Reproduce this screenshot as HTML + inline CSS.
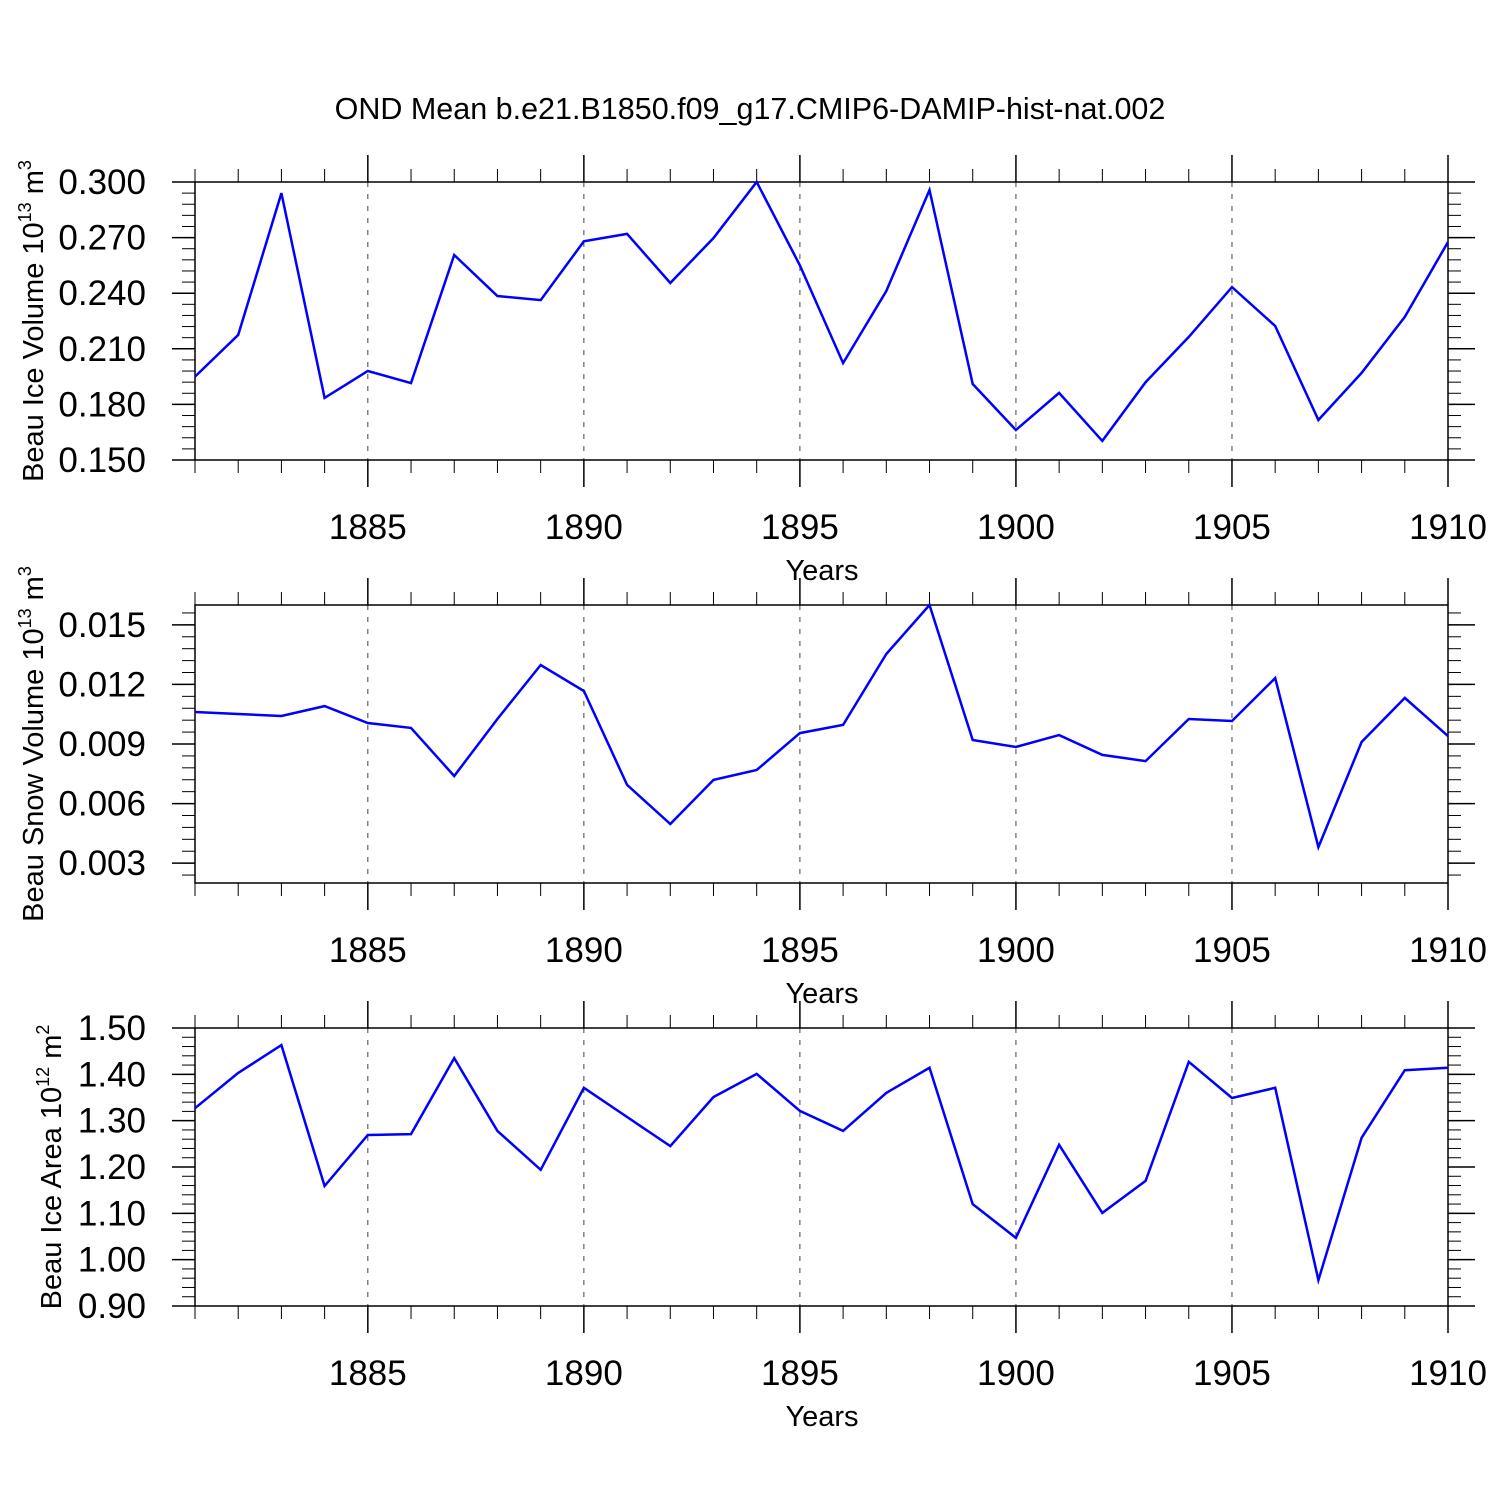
<!DOCTYPE html>
<html><head><meta charset="utf-8"><style>
html,body{margin:0;padding:0;background:#fff;}
svg{display:block;font-family:"Liberation Sans",sans-serif;}
</style></head><body>
<svg id="chart" width="1500" height="1500" viewBox="0 0 1500 1500" xmlns="http://www.w3.org/2000/svg">
<text x="750" y="119" text-anchor="middle" font-size="30.5">OND Mean b.e21.B1850.f09_g17.CMIP6-DAMIP-hist-nat.002</text>
</svg>
<script>
const years = [1881,1882,1883,1884,1885,1886,1887,1888,1889,1890,1891,1892,1893,1894,1895,1896,1897,1898,1899,1900,1901,1902,1903,1904,1905,1906,1907,1908,1909,1910];
const iceVolume = [0.195,0.2175,0.294,0.1835,0.198,0.1915,0.2606,0.2385,0.2363,0.268,0.272,0.2455,0.2698,0.300,0.255,0.2023,0.2412,0.2957,0.191,0.1662,0.1862,0.1603,0.192,0.2164,0.2433,0.2223,0.1716,0.197,0.2272,0.2676];
const snowVolume = [0.01061,0.01051,0.01041,0.01091,0.01006,0.00981,0.00739,0.01026,0.01298,0.01167,0.00694,0.00497,0.00719,0.00769,0.00955,0.00996,0.01353,0.016,0.0092,0.00885,0.00945,0.00845,0.00814,0.01026,0.01016,0.01232,0.00381,0.0091,0.01132,0.0094];
const iceArea = [1.327,1.403,1.463,1.159,1.269,1.271,1.435,1.278,1.194,1.371,1.308,1.245,1.351,1.401,1.321,1.278,1.360,1.414,1.120,1.047,1.248,1.101,1.170,1.427,1.349,1.371,0.956,1.263,1.409,1.414];
const xTicks = [1885,1890,1895,1900,1905,1910];
const iceVolTicks = ["0.150","0.180","0.210","0.240","0.270","0.300"];
const snowTicks = ["0.003","0.006","0.009","0.012","0.015"];
const areaTicks = ["0.90","1.00","1.10","1.20","1.30","1.40","1.50"];

const svg = document.getElementById('chart');
const NS = 'http://www.w3.org/2000/svg';
function mk(tag, attrs, parent){const e=document.createElementNS(NS,tag);for(const k in attrs)e.setAttribute(k,attrs[k]);(parent||svg).appendChild(e);return e;}
const X0=195, X1=1448, xmin=1881, xmax=1910;
const xs = v => X0 + (v-xmin)/(xmax-xmin)*(X1-X0);

function panel(key, top, ymin, ymax, ticks, minorStep, values, titleParts){
  const bot = top+278;
  const ys = v => bot - (v-ymin)/(ymax-ymin)*278;
  const g = mk('g',{});
  
  
  xTicks.forEach(t=>{ if(t<xmax){ const l=mk('line',{x1:xs(t),x2:xs(t),y1:top,y2:bot,stroke:'#444','stroke-width':1,'stroke-dasharray':'5,7'},g);
    
     }});
  const fr = mk('rect',{x:X0,y:top,width:X1-X0,height:278,fill:'none',stroke:'#000','stroke-width':1.5},g);
  
  
  years.forEach(yv=>{
    const maj = xTicks.includes(yv); const L = maj?27:13; const x=xs(yv);
    mk('line',{x1:x,x2:x,y1:top,y2:top-L,stroke:'#000','stroke-width':maj?1.5:1},g);
    mk('line',{x1:x,x2:x,y1:bot,y2:bot+L,stroke:'#000','stroke-width':maj?1.5:1},g);
  });
  xTicks.forEach(t=>{
    const tx = mk('text',{x:xs(t),y:bot+79,'text-anchor':'middle','font-size':35},g);
    tx.textContent = t;
    
    
  });
  const xt = mk('text',{x:822,y:bot+120,'text-anchor':'middle','font-size':29},g);
  xt.textContent='Years';
  
  
  const first = Math.ceil(ymin/minorStep-1e-6);
  for(let i=first;i*minorStep<=ymax+1e-9;i++){
    const y=ys(i*minorStep);
    mk('line',{x1:X0,x2:X0-13,y1:y,y2:y,stroke:'#000','stroke-width':1},g);
    mk('line',{x1:X1,x2:X1+13,y1:y,y2:y,stroke:'#000','stroke-width':1},g);
  }
  ticks.forEach(t=>{
    const y=ys(parseFloat(t));
    mk('line',{x1:X0,x2:X0-23,y1:y,y2:y,stroke:'#000','stroke-width':1.5},g);
    mk('line',{x1:X1,x2:X1+27,y1:y,y2:y,stroke:'#000','stroke-width':1.5},g);
    const tx = mk('text',{x:146,y:y+12,'text-anchor':'end','font-size':35},g);
    tx.textContent=t;
    
    
  });
  const cy=(top+bot)/2;
  const tt = mk('text',{x:0,y:0,'text-anchor':'middle','font-size':29,transform:`translate(${titleParts[3]},${cy}) rotate(-90)`},g);
  
  
  const a=document.createElementNS(NS,'tspan'); a.textContent=titleParts[0]; tt.appendChild(a);
  const b=document.createElementNS(NS,'tspan'); b.setAttribute('dy','-12'); b.setAttribute('font-size','18'); b.textContent=titleParts[1]; tt.appendChild(b);
  const c=document.createElementNS(NS,'tspan'); c.setAttribute('dy','12'); c.textContent=' m'; tt.appendChild(c);
  const d=document.createElementNS(NS,'tspan'); d.setAttribute('dy','-12'); d.setAttribute('font-size','18'); d.textContent=titleParts[2]; tt.appendChild(d);
  const pts = values.map((v,i)=>xs(years[i]).toFixed(1)+','+ys(v).toFixed(1)).join(' ');
  const pl = mk('polyline',{points:pts,fill:'none',stroke:'#0000ff','stroke-width':2.5,'stroke-linejoin':'miter'},g);
  
  
}
panel('ice-volume',182,0.150,0.300,iceVolTicks,0.006,iceVolume,['Beau Ice Volume 10','13','3',43]);
panel('snow-volume',605,0.002,0.016,snowTicks,0.0006,snowVolume,['Beau Snow Volume 10','13','3',43]);
panel('ice-area',1028,0.90,1.50,areaTicks,0.02,iceArea,['Beau Ice Area 10','12','2',61]);
</script>
</body></html>
